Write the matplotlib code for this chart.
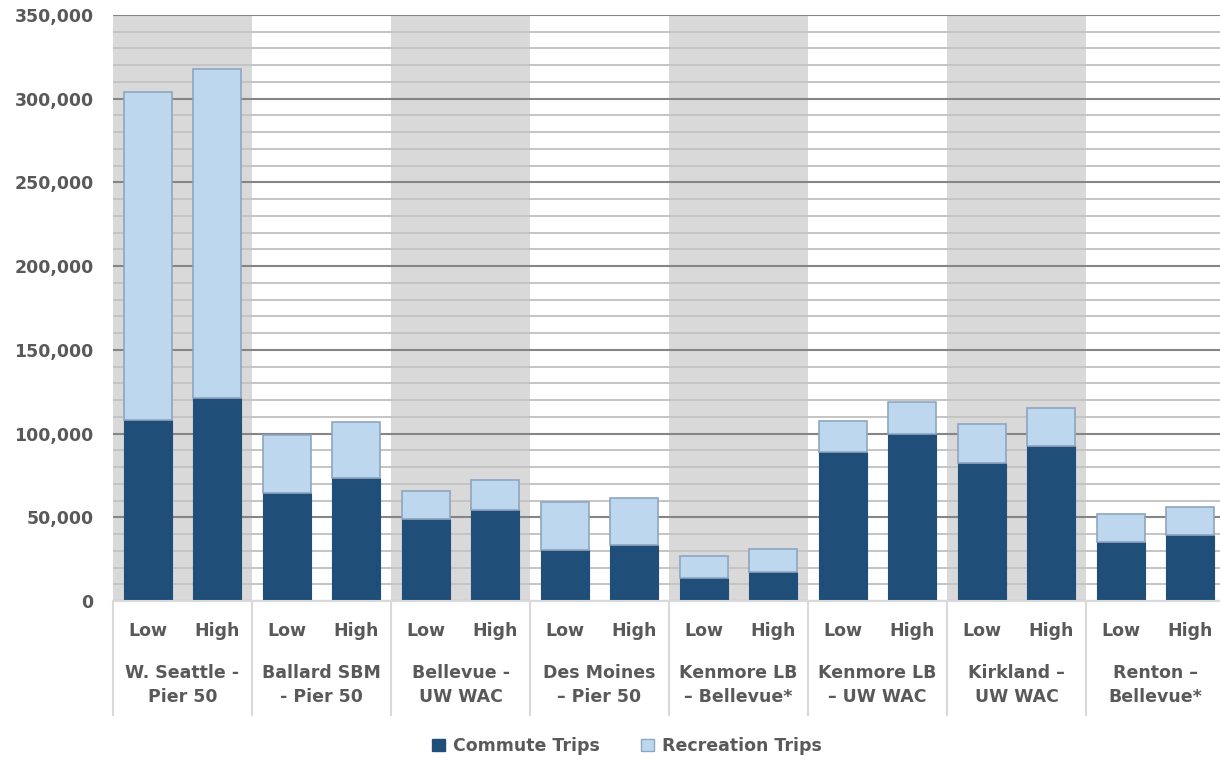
import numpy as np
import matplotlib
matplotlib.use("Agg")
import matplotlib.pyplot as plt
from matplotlib.patches import Patch

# ── data ────────────────────────────────────────────────────────────
routes = ["W. Seattle -\nPier 50", "Ballard SBM\n- Pier 50", "Bellevue -\nUW WAC",
          "Des Moines\n– Pier 50", "Kenmore LB\n– Bellevue*", "Kenmore LB\n– UW WAC",
          "Kirkland –\nUW WAC", "Renton –\nBellevue*"]
scenarios = ["Low", "High"]
commute = [108000, 121000, 64500, 73500, 49000, 54500, 30500, 33500,
           13700, 17500, 88800, 100000, 82600, 92600, 35000, 39200]
total = [304000, 318000, 99000, 107000, 65700, 72000, 59000, 61500,
         27000, 31000, 107300, 118700, 105500, 115500, 52000, 56000]
recreation = [t - c for t, c in zip(total, commute)]

TXT = "#595959"
DARK = "#1F4E79"
LIGHT = "#BDD7EE"
EDGE = "#8EA5C0"
BAND = "#D9D9D9"

plt.rcParams["font.family"] = ["DejaVu Sans"]

fig = plt.figure(figsize=(12.2, 7.61), dpi=100)
ax = fig.add_axes([113 / 1220, 1 - 601 / 761, 1112 / 1220, 586 / 761])

x = np.arange(len(commute))
ax.bar(x, commute, width=0.69, color=DARK, edgecolor=DARK, lw=0.8, zorder=2)
ax.bar(x, recreation, bottom=commute, width=0.69, color=LIGHT, edgecolor=EDGE,
       lw=1.2, zorder=2)

ngroups = len(routes)
for g in range(ngroups):
    if g % 2 == 0:
        ax.axvspan(2 * g - 0.5, 2 * g + 1.5, color=BAND, lw=0, zorder=0)

ax.set_xlim(-0.5, 2 * ngroups - 0.5)
ax.set_ylim(0, 350000)
ax.set_yticks(np.arange(0, 350001, 50000))
ax.set_yticks(np.arange(0, 350001, 10000), minor=True)
ax.set_yticklabels([f"{v:,}" for v in range(0, 350001, 50000)],
                   fontsize=12.5, fontweight="bold", color=TXT)
ax.tick_params(axis="y", which="both", length=0, pad=14)
ax.set_xticks([])
ax.set_axisbelow(True)
ax.yaxis.grid(True, which="major", color="#858585", lw=1.5, zorder=1)
ax.yaxis.grid(True, which="minor", color="#C4C4C4", lw=1.4, zorder=1)
for s in ["left", "right", "top"]:
    ax.spines[s].set_visible(False)
ax.spines["bottom"].set_color(BAND)
ax.spines["bottom"].set_linewidth(1.5)

# two-level category labels
xt = ax.get_xaxis_transform()
for i in x:
    ax.text(i, -30 / 586, scenarios[i % 2], transform=xt, ha="center", va="center",
            fontsize=12.5, fontweight="bold", color=TXT)
for g, name in enumerate(routes):
    ax.text(2 * g + 0.5, -84 / 586, name, transform=xt, ha="center", va="center",
            fontsize=12.5, fontweight="bold", color=TXT, linespacing=1.45)
for b in range(ngroups + 1):
    ax.plot([2 * b - 0.5] * 2, [0, -114 / 586], transform=xt, color=BAND,
            lw=1.5, clip_on=False)

handles = [Patch(facecolor=DARK, edgecolor=DARK, label="Commute Trips"),
           Patch(facecolor=LIGHT, edgecolor=EDGE, label="Recreation Trips")]
leg = fig.legend(handles=handles, loc="center", bbox_to_anchor=(0.514, 1 - 746 / 761),
                 ncol=2, frameon=False, handlelength=0.75, handleheight=0.75,
                 handletextpad=0.45, columnspacing=2.4,
                 prop={"size": 12.5, "weight": "bold"})
for t in leg.get_texts():
    t.set_color(TXT)

fig.savefig("out.png", dpi=100)
